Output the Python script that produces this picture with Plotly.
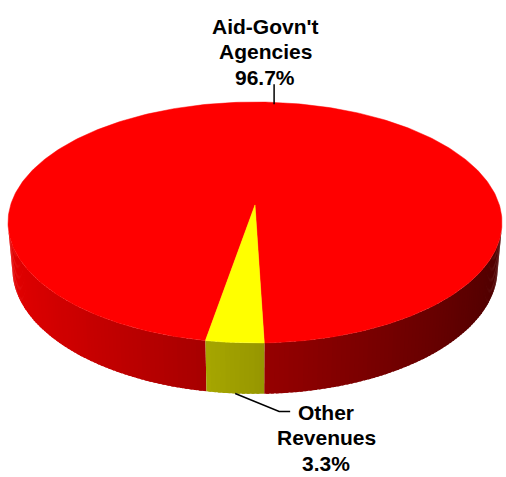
import numpy as np
import plotly.graph_objects as go

# Revenue split
labels = ["Aid-Govn't Agencies", "Other Revenues"]
shares = [96.7, 3.3]
top_colors = ["#ff0000", "#ffff00"]
base_rgb = [(255, 0, 0), (255, 255, 0)]

W, H = 506, 477

# 3-D pie view settings
ELEV = np.radians(29.0)     # camera elevation
DIST = 6.0                  # camera distance in pie radii
THICK = 0.22                # pie thickness in pie radii
FIRST_ANGLE = 190.0         # first slice start, degrees clockwise from 12 o'clock

cam = np.array([0.0, -DIST * np.cos(ELEV), DIST * np.sin(ELEV)])
fwd = np.array([0.0, np.cos(ELEV), -np.sin(ELEV)])
up = np.array([0.0, np.sin(ELEV), np.cos(ELEV)])
right = np.array([1.0, 0.0, 0.0])


def project(x, y, z):
    p = np.stack(np.broadcast_arrays(x, y, z), axis=-1).astype(float) - cam
    depth = p @ fwd
    return (p @ right) / depth, (p @ up) / depth


# scale the projected top face into the page box
t = np.linspace(0, 2 * np.pi, 1441)
u_rim, v_rim = project(np.cos(t), np.sin(t), 0.0)
X0, X1, Y0, Y1 = 8.0, 502.0, 102.0, 343.0
umin, vmax = u_rim.min(), v_rim.max()
kx = (X1 - X0) / (u_rim.max() - umin)
ky = (Y1 - Y0) / (vmax - v_rim.min())


def to_px(theta_deg, r=1.0, z=0.0):
    th = np.radians(np.asarray(theta_deg, float))
    u, v = project(r * np.cos(th), r * np.sin(th), z)
    return X0 + (u - umin) * kx, Y0 + (vmax - v) * ky


def shade(theta_deg):
    return 0.6 - 0.3 * np.cos(np.radians(theta_deg))


fracs = np.array(shares) / np.sum(shares)
starts, ends = [], []
a = 90.0 - FIRST_ANGLE
for f in fracs:
    starts.append(a)
    ends.append(a - 360.0 * f)
    a -= 360.0 * f

fig = go.Figure()

# side wall, drawn as thin overlapping strips with angle-dependent shading
vis_lim = -1.0 / (DIST * np.cos(ELEV))
for s, e, rgb in zip(starts, ends, base_rgb):
    n = max(2, int(np.ceil(abs(s - e) / 1.0)))
    edges = np.linspace(s, e, n + 1)
    for i, (a0, a1) in enumerate(zip(edges[:-1], edges[1:])):
        mid = 0.5 * (a0 + a1)
        if np.sin(np.radians(mid)) >= vis_lim:
            continue
        k = shade(mid % 360.0)
        col = "rgb(%d,%d,%d)" % tuple(int(round(c * k)) for c in rgb)
        a1x = a1 - 0.6 if i < n - 1 else a1  # overlap next strip to hide seams
        xa, ya = to_px([a0, a1x], 1.0, 0.0)
        xb, yb = to_px([a1x, a0], 1.0, -THICK)
        fig.add_trace(go.Scatter(
            x=list(xa) + list(xb) + [xa[0]], y=list(ya) + list(yb) + [ya[0]],
            mode="lines", fill="toself", fillcolor=col,
            line=dict(width=0), hoverinfo="skip", showlegend=False))

# top face slices
for s, e, col, lab, val in zip(starts, ends, top_colors, labels, shares):
    arc = np.linspace(s, e, 400)
    xs, ys = to_px(arc)
    cx, cy = to_px([0.0], 0.0)
    fig.add_trace(go.Scatter(
        x=[cx[0]] + list(xs) + [cx[0]], y=[cy[0]] + list(ys) + [cy[0]],
        mode="lines", fill="toself", fillcolor=col,
        line=dict(color=col, width=0.5), name=lab,
        hovertemplate=lab + ": " + str(val) + "%<extra></extra>", showlegend=False))

# leader lines
mid0 = 0.5 * (starts[0] + ends[0])
lx, ly = to_px([mid0])
lx, ly = lx[0] + 4, ly[0]
fig.add_trace(go.Scatter(x=[lx, lx], y=[ly + 2, ly - 18], mode="lines",
                         line=dict(color="black", width=1.5),
                         hoverinfo="skip", showlegend=False))

mid1 = 0.5 * (starts[1] + ends[1])
bx, by = to_px([mid1], 1.0, -THICK)
bx, by = bx[0], by[0]
fig.add_trace(go.Scatter(x=[bx, bx + 44, bx + 55], y=[by, by + 18, by + 18], mode="lines",
                         line=dict(color="black", width=1.5),
                         hoverinfo="skip", showlegend=False))

# data labels, one annotation per line for tight line spacing
font = dict(family="Liberation Sans", size=21, color="black", weight="bold")
LINE_GAP = 25.5


def label_lines(i):
    return labels[i].split(" ") + [f"{shares[i]}%"]


anchors = [(265, ly - 18 - 58), (326, by + 19)]
for i, (ax, ay) in enumerate(anchors):
    for j, line in enumerate(label_lines(i)):
        fig.add_annotation(x=ax, y=ay + j * LINE_GAP, text=line, showarrow=False,
                           xanchor="center", yanchor="middle", font=font,
                           borderpad=0)

fig.update_layout(
    width=W, height=H, margin=dict(l=0, r=0, t=0, b=0),
    paper_bgcolor="white", plot_bgcolor="white",
    xaxis=dict(range=[0, W], visible=False, fixedrange=True),
    yaxis=dict(range=[H, 0], visible=False, fixedrange=True),
)

fig.write_html("out.html")
